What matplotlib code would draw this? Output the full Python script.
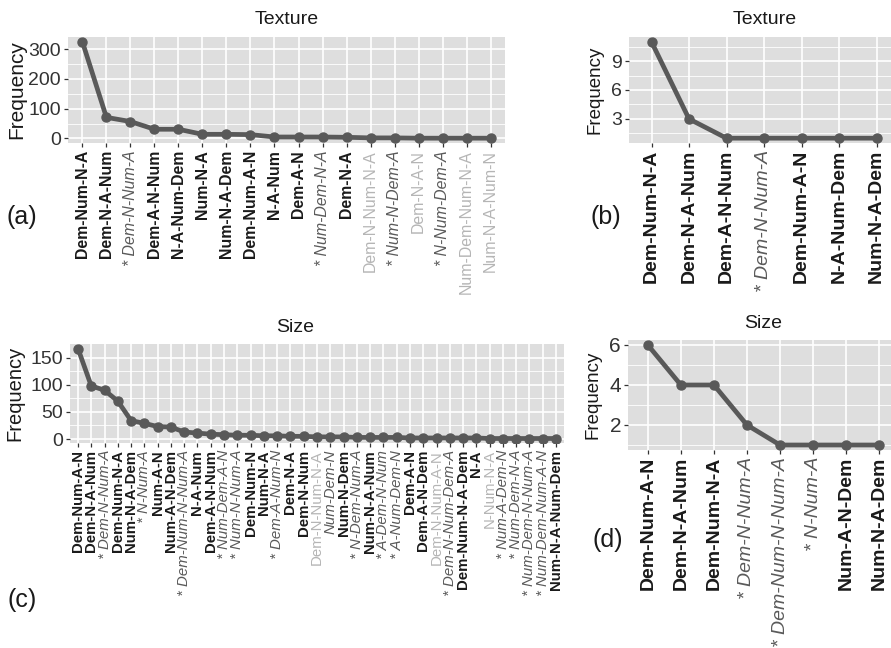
import matplotlib
matplotlib.use("Agg")
import matplotlib.pyplot as plt
import numpy as np

W, H = 891, 648

# (a) Texture, left
a_labels = ["Dem-Num-N-A", "Dem-N-A-Num", "* Dem-N-Num-A", "Dem-A-N-Num", "N-A-Num-Dem",
            "Num-N-A", "Num-N-A-Dem", "Dem-Num-A-N", "N-A-Num", "Dem-A-N", "* Num-Dem-N-A",
            "Dem-N-A", "Dem-N-Num-N-A", "* Num-N-Dem-A", "Dem-N-A-N", "* N-Num-Dem-A",
            "Num-Dem-Num-N-A", "Num-N-A-Num-N"]
a_styles = "b b i b b b b b b b i b l i l i l l".split()
a_freq = [325, 71, 57, 31, 31, 14, 14, 13, 5, 5, 5, 4, 2, 2, 1, 1, 1, 1]

# (b) Texture, right
b_labels = ["Dem-Num-N-A", "Dem-N-A-Num", "Dem-A-N-Num", "* Dem-N-Num-A", "Dem-Num-A-N",
            "N-A-Num-Dem", "Num-N-A-Dem"]
b_styles = "b b b i b b b".split()
b_freq = [11, 3, 1, 1, 1, 1, 1]

# (c) Size, left
c_labels = ["Dem-Num-A-N", "Dem-N-A-Num", "* Dem-N-Num-A", "Dem-Num-N-A", "Num-N-A-Dem",
            "* N-Num-A", "Num-A-N", "Num-A-N-Dem", "* Dem-Num-N-Num-A", "N-A-Num",
            "Dem-A-N-Num", "* Num-Dem-A-N", "* Num-N-Num-A", "Dem-Num-N", "Num-N-A",
            "* Dem-A-Num-N", "Dem-N-A", "Dem-N-Num", "Dem-N-Num-N-A", "Num-Dem-N",
            "Num-N-Dem", "* N-Dem-Num-A", "Num-N-A-Num", "* A-Dem-N-Num", "* A-Num-Dem-N",
            "Dem-A-N", "Dem-A-N-Dem", "Dem-N-Num-A-N", "* Dem-N-Num-Dem-A", "Dem-Num-N-A-Dem",
            "N-A", "N-Num-N-A", "* Num-A-Dem-N", "* Num-Dem-N-A", "* Num-Dem-N-Num-A",
            "* Num-Dem-Num-A-N", "Num-N-A-Num-Dem"]
c_styles = ("b b i b b i b b i b b i i b b i b b l i b i b i i b b l i b b l i i i i b").split()
c_freq = [167, 98, 90, 70, 34, 29, 23, 22, 13, 11, 9, 8, 7, 7, 6, 6, 5, 5, 4, 4,
          4, 3, 3, 3, 3, 2, 2, 2, 2, 2, 2, 1, 1, 1, 1, 1, 1]

# (d) Size, right
d_labels = ["Dem-Num-A-N", "Dem-N-A-Num", "Dem-Num-N-A", "* Dem-N-Num-A",
            "* Dem-Num-N-Num-A", "* N-Num-A", "Num-A-N-Dem", "Num-N-A-Dem"]
d_styles = "b b b i i i b b".split()
d_freq = [6, 4, 4, 2, 1, 1, 1, 1]

STYLE = {
    "b": dict(color="#1a1a1a", fontweight="bold", fontstyle="normal"),
    "i": dict(color="#5a5a5a", fontweight="normal", fontstyle="italic"),
    "l": dict(color="#b5b5b5", fontweight="normal", fontstyle="normal"),
}

plt.rcParams["font.family"] = ["Liberation Sans", "DejaVu Sans"]

fig = plt.figure(figsize=(W / 100, H / 100), dpi=100)


def px_axes(left, top, right, bottom):
    return fig.add_axes([left / W, 1 - bottom / H, (right - left) / W, (bottom - top) / H])


def panel(box, labels, styles, freq, major, minor, xfs, yfs):
    ax = px_axes(*box)
    n = len(labels)
    x = np.arange(n)
    ax.set_facecolor("#dedede")
    for s in ax.spines.values():
        s.set_visible(False)
    ax.plot(x, freq, color="#595959", lw=3.4, marker="o", ms=6.5, solid_capstyle="round", zorder=3)
    ax.set_xlim(-0.6, n - 0.4)
    lo, hi = min(freq), max(freq)
    pad = (hi - lo) * 0.05
    ax.set_ylim(lo - pad, hi + pad)
    ax.set_yticks(major)
    ax.set_yticks(minor, minor=True)
    ax.set_xticks(x)
    ax.set_xticklabels(labels, rotation=90, ha="center", va="top", fontsize=xfs)
    for t, st in zip(ax.get_xticklabels(), styles):
        t.set_color(STYLE[st]["color"])
        t.set_fontweight(STYLE[st]["fontweight"])
        t.set_fontstyle(STYLE[st]["fontstyle"])
    ax.tick_params(axis="both", which="major", length=3, width=0.9, color="#333333", pad=2)
    ax.tick_params(axis="y", which="major", labelsize=yfs, labelcolor="#333333")
    ax.tick_params(axis="y", which="minor", length=0)
    ax.grid(True, which="major", color="white", lw=1.2)
    ax.grid(True, which="minor", axis="y", color="white", lw=0.6)
    ax.set_axisbelow(True)
    return ax


panel((68, 37, 505, 143), a_labels, a_styles, a_freq, [0, 100, 200, 300], [50, 150, 250], 11.4, 14)
panel((629, 37, 899, 143), b_labels, b_styles, b_freq, [3, 6, 9], [1.5, 4.5, 7.5, 10.5], 14, 14)
panel((70, 344, 564, 443), c_labels, c_styles, c_freq, [0, 50, 100, 150], [25, 75, 125], 10.8, 14)
panel((628, 340, 899, 450), d_labels, d_styles, d_freq, [2, 4, 6], [1, 3, 5], 14, 15)


def ftext(x, y, s, **kw):
    fig.text(x / W, 1 - y / H, s, ha="center", va="center", **kw)


ftext(287, 20, "Texture", fontsize=14, color="#1a1a1a")
ftext(765, 20, "Texture", fontsize=14, color="#1a1a1a")
ftext(295, 328, "Size", fontsize=14, color="#1a1a1a")
ftext(763, 323, "Size", fontsize=14, color="#1a1a1a")

ftext(17, 90, "Frequency", fontsize=15, rotation=90, color="#1a1a1a")
ftext(595, 90, "Frequency", fontsize=13.5, rotation=90, color="#1a1a1a")
ftext(15, 393, "Frequency", fontsize=14.5, rotation=90, color="#1a1a1a")
ftext(593, 395, "Frequency", fontsize=13.5, rotation=90, color="#1a1a1a")

ftext(22, 217, "(a)", fontsize=18, color="#1a1a1a")
ftext(606, 217, "(b)", fontsize=18, color="#1a1a1a")
ftext(22, 600, "(c)", fontsize=18, color="#1a1a1a")
ftext(608, 540, "(d)", fontsize=18, color="#1a1a1a")

fig.savefig("out.png", dpi=100)
